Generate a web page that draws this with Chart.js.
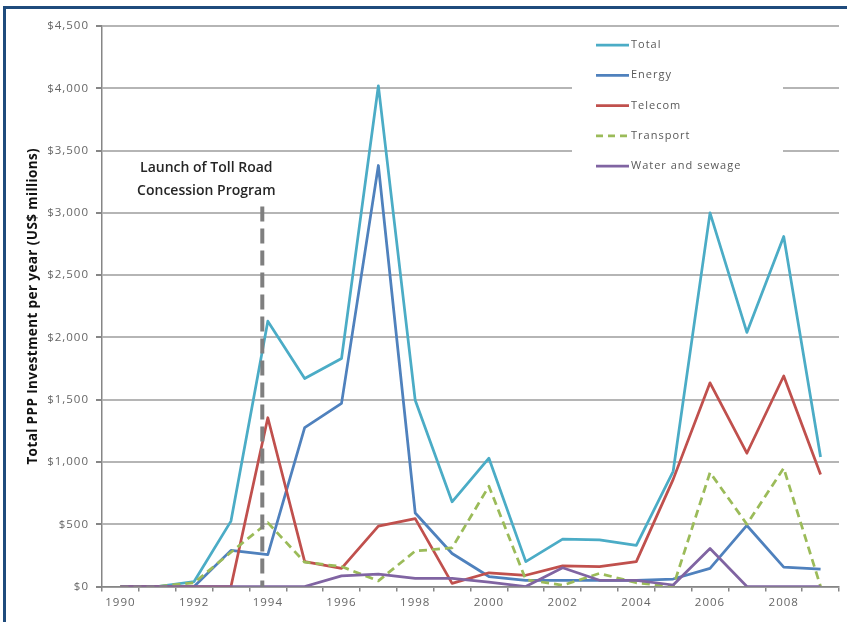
<!DOCTYPE html>
<html>
<head>
<meta charset="utf-8">
<title>Total PPP Investment per year</title>
<script src="https://cdn.jsdelivr.net/npm/chart.js@4.4.1/dist/chart.umd.min.js"></script>
<style>
  html, body { margin: 0; padding: 0; background: #fff; }
  #wrap { position: relative; width: 847px; height: 622px; overflow: hidden; }
  #frame { position: absolute; left: 3px; top: 6px; width: 900px; height: 700px;
           border-top: 3px solid #1f4b7c; border-left: 3px solid #1f4b7c; box-sizing: border-box; }
  canvas { position: absolute; left: 0; top: 0; }
</style>
</head>
<body>
<div id="wrap">
  <div id="frame"></div>
  <canvas id="chart" width="847" height="622"></canvas>
</div>
<script>
// Annual PPP investment, US$ millions
const years = ['1990','1991','1992','1993','1994','1995','1996','1997','1998','1999',
               '2000','2001','2002','2003','2004','2005','2006','2007','2008','2009'];
const total     = [0, 0, 40, 525, 2130, 1670, 1830, 4020, 1495, 680, 1030, 200, 380, 375, 330, 925, 3000, 2040, 2810, 1040];
const energy    = [0, 0, 0, 290, 255, 1275, 1470, 3380, 590, 265, 80, 50, 50, 50, 50, 60, 145, 490, 155, 140];
const telecom   = [0, 0, 0, 0, 1355, 200, 145, 485, 545, 25, 110, 90, 165, 160, 200, 860, 1635, 1070, 1690, 900];
const transport = [0, 0, 30, 275, 513, 195, 160, 45, 285, 310, 805, 55, 10, 105, 30, 0, 915, 500, 950, 0];
const water     = [0, 0, 0, 0, 0, 0, 85, 100, 65, 65, 35, 0, 150, 50, 50, 12, 305, 0, 0, 0];

const seriesNames  = ['Total', 'Energy', 'Telecom', 'Transport', 'Water and sewage'];
const seriesColors = ['#4bacc6', '#4f81bd', '#c0504d', '#9bbb59', '#8064a2'];

const yTitle = 'Total PPP Investment per year (US$ millions)';
const launchNote = ['Launch of Toll Road', 'Concession Program'];
const launchPos = 3.85;      // category position of the launch marker (just before 1994)
const launchTop = 3050;      // value where the marker line starts

const FONT = '"Open Sans", "DejaVu Sans", sans-serif';

function makeSet(i, data) {
  return {
    label: seriesNames[i],
    data: data,
    borderColor: seriesColors[i],
    backgroundColor: seriesColors[i],
    borderWidth: 2.75,
    pointRadius: 0,
    pointHoverRadius: 0,
    tension: 0,
    fill: false,
    borderJoinStyle: 'round',
    borderDash: i === 3 ? [8, 5] : [],
    order: 4 - i
  };
}

const overlay = {
  id: 'overlay',
  beforeDraw(chart) {
    chart.ctx.letterSpacing = '1px';
  },
  beforeDatasetsDraw(chart) {
    // white panel that holds the legend, over the grid lines
    const ctx = chart.ctx;
    ctx.save();
    ctx.fillStyle = '#ffffff';
    ctx.fillRect(572, 30, 211, 156);
    ctx.restore();
  },
  afterDatasetsDraw(chart) {
    const ctx = chart.ctx;
    const xs = chart.scales.x, ys = chart.scales.y;
    const area = chart.chartArea;

    // launch marker
    const lx = xs.getPixelForValue(launchPos);
    ctx.save();
    ctx.strokeStyle = '#7f7f7f';
    ctx.lineWidth = 4;
    ctx.setLineDash([15, 7]);
    ctx.beginPath();
    ctx.moveTo(lx, ys.getPixelForValue(launchTop));
    ctx.lineTo(lx, ys.getPixelForValue(0));
    ctx.stroke();
    ctx.restore();

    ctx.save();
    ctx.letterSpacing = '0px';
    ctx.fillStyle = '#262626';
    ctx.font = '600 14px ' + FONT;
    ctx.textAlign = 'center';
    ctx.textBaseline = 'middle';
    ctx.fillText(launchNote[0], lx - 56, 168);
    ctx.fillText(launchNote[1], lx - 56, 191);
    ctx.restore();

    // legend
    ctx.save();
    ctx.letterSpacing = '1px';
    ctx.font = '11px ' + FONT;
    ctx.textAlign = 'left';
    ctx.textBaseline = 'middle';
    chart.data.datasets.forEach((ds, i) => {
      const y = 45 + i * 30.3;
      ctx.strokeStyle = ds.borderColor;
      ctx.lineWidth = 2.75;
      ctx.setLineDash(ds.borderDash.length ? [7, 5] : []);
      ctx.beginPath();
      ctx.moveTo(596, y);
      ctx.lineTo(629, y);
      ctx.stroke();
      ctx.setLineDash([]);
      ctx.fillStyle = '#595959';
      ctx.fillText(ds.label, 631, y);
    });
    ctx.restore();

    // y axis title
    ctx.save();
    ctx.letterSpacing = '0.4px';
    ctx.fillStyle = '#111';
    ctx.font = 'bold 13.5px ' + FONT;
    ctx.textAlign = 'center';
    ctx.textBaseline = 'middle';
    ctx.translate(33, (area.top + area.bottom) / 2);
    ctx.rotate(-Math.PI / 2);
    ctx.fillText(yTitle, 0, 0);
    ctx.restore();
  }
};

new Chart(document.getElementById('chart'), {
  type: 'line',
  data: {
    labels: years,
    datasets: [makeSet(0, total), makeSet(1, energy), makeSet(2, telecom), makeSet(3, transport), makeSet(4, water)]
  },
  options: {
    responsive: false,
    animation: false,
    events: [],
    layout: { padding: { left: 0, top: 26, right: 8, bottom: 0 } },
    plugins: { legend: { display: false }, tooltip: { enabled: false }, title: { display: false } },
    scales: {
      x: {
        type: 'category',
        offset: true,
        grid: { offset: true, drawOnChartArea: false, drawTicks: true, tickLength: 5, color: '#868686', lineWidth: 1.5 },
        border: { color: '#868686', width: 1.5 },
        ticks: {
          autoSkip: false, maxRotation: 0, padding: 4, color: '#666',
          font: { family: FONT, size: 11.5 },
          callback: (v, i) => (i % 2 === 0 ? years[i] : '')
        },
        afterFit: s => { s.height = 35.5; }
      },
      y: {
        min: 0, max: 4500,
        grid: { color: '#b5b5b5', lineWidth: 2, tickLength: 6, tickColor: '#868686', drawTicks: true },
        border: { color: '#868686', width: 1.5 },
        ticks: {
          stepSize: 500, padding: 7, color: '#666',
          font: { family: FONT, size: 11.5 },
          callback: v => '$' + v.toLocaleString('en-US')
        },
        afterFit: s => { s.width = 102; }
      }
    }
  },
  plugins: [overlay]
});
</script>
</body>
</html>
